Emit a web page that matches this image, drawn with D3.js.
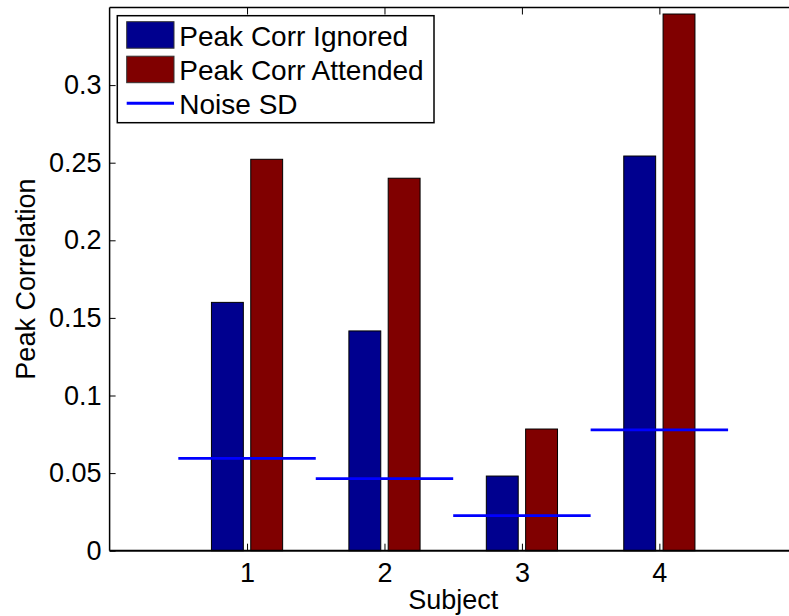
<!DOCTYPE html>
<html>
<head>
<meta charset="utf-8">
<script src="https://cdn.jsdelivr.net/npm/d3@7"></script>
<style>
  html, body { margin: 0; padding: 0; background: #fff; }
  svg { display: block; }
</style>
</head>
<body>
<div id="chart"></div>
<script>
// values
const subjects = [1, 2, 3, 4];
const peakIgnored = [0.160, 0.1416, 0.0481, 0.2543];
const peakAttended = [0.2522, 0.240, 0.0784, 0.3458];
const noiseSD = [0.0595, 0.0464, 0.0226, 0.0778];
const yTicks = [0, 0.05, 0.1, 0.15, 0.2, 0.25, 0.3];
const legendLabels = ["Peak Corr Ignored", "Peak Corr Attended", "Noise SD"];

const width = 789;
const height = 616;
const font = "'Liberation Sans', Arial, Helvetica, sans-serif";

const x = d3.scaleLinear().domain([0, 5]).range([109.6, 796.8]);
const y = d3.scaleLinear().domain([0, 0.35]).range([550.7, 7.5]);

const barW = 0.232;
const offIgnored = -0.143;
const offAttended = 0.143;

const svg = d3.create("svg")
    .attr("width", width)
    .attr("height", height)
    .attr("font-family", font);

svg.append("rect")
    .attr("width", width)
    .attr("height", height)
    .attr("fill", "#fff");

// bars
const groups = [
    { values: peakIgnored, off: offIgnored, color: "#00008f" },
    { values: peakAttended, off: offAttended, color: "#800000" }
];

groups.forEach(g => {
    svg.append("g")
        .selectAll("rect")
        .data(subjects)
        .join("rect")
        .attr("x", (d, i) => x(d + g.off - barW / 2))
        .attr("width", x(barW) - x(0))
        .attr("y", (d, i) => y(g.values[i]))
        .attr("height", (d, i) => y(0) - y(g.values[i]))
        .attr("fill", g.color)
        .attr("stroke", "#000")
        .attr("stroke-width", 1);
});

// noise sd lines
svg.append("g")
    .selectAll("line")
    .data(subjects)
    .join("line")
    .attr("x1", d => x(d - 0.5))
    .attr("x2", d => x(d + 0.5))
    .attr("y1", (d, i) => y(noiseSD[i]))
    .attr("y2", (d, i) => y(noiseSD[i]))
    .attr("stroke", "#0000ff")
    .attr("stroke-width", 2.7);

// axes
const yAxis = svg.append("g")
    .attr("transform", `translate(${x(0)},0)`)
    .call(d3.axisLeft(y)
        .tickValues(yTicks)
        .tickFormat(d => String(d))
        .tickSizeInner(-6)
        .tickSizeOuter(0)
        .tickPadding(8));

const xAxis = svg.append("g")
    .attr("transform", `translate(0,${y(0)})`)
    .call(d3.axisBottom(x)
        .tickValues(subjects)
        .tickFormat(d => String(d))
        .tickSizeInner(-7)
        .tickSizeOuter(0)
        .tickPadding(12));

const xTop = svg.append("g")
    .attr("transform", `translate(0,${y(0.35)})`)
    .call(d3.axisTop(x)
        .tickValues(subjects)
        .tickFormat("")
        .tickSizeInner(-7)
        .tickSizeOuter(0));

[yAxis, xAxis, xTop].forEach(a => {
    a.select(".domain").remove();
    a.attr("font-family", font).attr("font-size", 27);
    a.selectAll("line").attr("stroke", "#000").attr("stroke-width", 1);
    a.selectAll("text").attr("fill", "#000");
});

// axes box
svg.append("path")
    .attr("d", `M${x(0)},${y(0.35)}H${x(5)}M${x(0)},${y(0.35)}V${y(0)}`)
    .attr("fill", "none")
    .attr("stroke", "#000")
    .attr("stroke-width", 1.5);

svg.append("line")
    .attr("x1", x(0))
    .attr("x2", x(5))
    .attr("y1", y(0))
    .attr("y2", y(0))
    .attr("stroke", "#000")
    .attr("stroke-width", 2);

// axis titles
svg.append("text")
    .attr("x", (x(0) + x(5)) / 2)
    .attr("y", 609)
    .attr("text-anchor", "middle")
    .attr("font-size", 27)
    .text("Subject");

svg.append("text")
    .attr("transform", `translate(35,${(y(0) + y(0.35)) / 2}) rotate(-90)`)
    .attr("text-anchor", "middle")
    .attr("font-size", 27)
    .text("Peak Correlation");

// legend
const legend = svg.append("g");

legend.append("rect")
    .attr("x", 117.3)
    .attr("y", 15.7)
    .attr("width", 316.7)
    .attr("height", 107)
    .attr("fill", "#fff")
    .attr("stroke", "#000")
    .attr("stroke-width", 1.5);

const rowBase = [45.5, 80, 113.5];

legend.selectAll("rect.sw")
    .data(groups)
    .join("rect")
    .attr("class", "sw")
    .attr("x", 126.7)
    .attr("y", (d, i) => rowBase[i] - 23.8)
    .attr("width", 47.3)
    .attr("height", 26.5)
    .attr("fill", d => d.color)
    .attr("stroke", "#333")
    .attr("stroke-width", 1);

legend.append("line")
    .attr("x1", 126.7)
    .attr("x2", 174)
    .attr("y1", 103.3)
    .attr("y2", 103.3)
    .attr("stroke", "#0000ff")
    .attr("stroke-width", 3);

legend.selectAll("text")
    .data(legendLabels)
    .join("text")
    .attr("x", 179.3)
    .attr("y", (d, i) => rowBase[i])
    .attr("font-size", 28)
    .text(d => d);

document.getElementById("chart").appendChild(svg.node());
</script>
</body>
</html>
